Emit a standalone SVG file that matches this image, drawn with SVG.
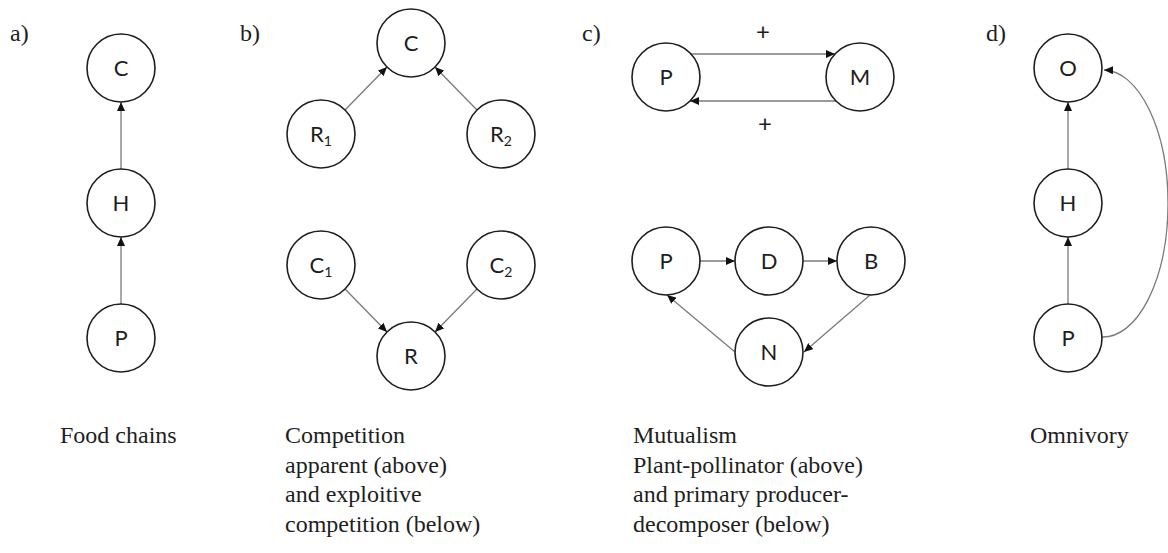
<svg xmlns="http://www.w3.org/2000/svg" width="1168" height="553" viewBox="0 0 1168 553">
<style>
.n{fill:#fff;stroke:#1e1e1e;stroke-width:1.6}
.t{font-family:Lato,"Open Sans","Liberation Sans",sans-serif;font-size:22px;fill:#1e1e1e;text-anchor:middle}
.s{font-size:14px}
.e{fill:none;stroke:#7a7a7a;stroke-width:1.3;marker-end:url(#ah)}
.cap{font-family:"Liberation Serif","Times New Roman",serif;font-size:24px;fill:#1e1e1e}
.pl{font-family:Lato,"Open Sans","Liberation Sans",sans-serif;font-size:24px;fill:#1e1e1e;text-anchor:middle}
</style>
<defs>
<marker id="ah" markerUnits="userSpaceOnUse" markerWidth="9" markerHeight="8" refX="9" refY="4" orient="auto">
<path d="M0,0 L9,4 L0,8 z" fill="#111"/>
</marker>
</defs>
<rect width="1168" height="553" fill="#fff"/>

<g id="panel-labels" class="cap">
<text x="10" y="41">a)</text>
<text x="240" y="41">b)</text>
<text x="582" y="41">c)</text>
<text x="986" y="41">d)</text>
</g>

<g id="connectors">
<line class="e" x1="121" y1="169" x2="121" y2="102"/>
<line class="e" x1="121" y1="304" x2="121" y2="237"/>
<line class="e" x1="345" y1="110" x2="387" y2="67"/>
<line class="e" x1="477" y1="110" x2="435" y2="67"/>
<line class="e" x1="345" y1="289" x2="387" y2="332"/>
<line class="e" x1="477" y1="289" x2="435" y2="332"/>
<line class="e" x1="691" y1="54" x2="835" y2="54"/>
<line class="e" x1="836" y1="101" x2="690" y2="101"/>
<line class="e" x1="700" y1="261" x2="735" y2="261"/>
<line class="e" x1="803" y1="261" x2="837" y2="261"/>
<line class="e" x1="870" y1="295" x2="804" y2="352"/>
<line class="e" x1="735" y1="352" x2="667" y2="295"/>
<line class="e" x1="1068" y1="169" x2="1068" y2="102"/>
<line class="e" x1="1068" y1="304" x2="1068" y2="237"/>
<path class="e" d="M1102,337 A65,133.5 0 0 0 1104,70"/>
</g>

<g id="a-C"><circle class="n" cx="121" cy="68" r="34"/><text class="t" x="121" y="76">C</text></g>
<g id="a-H"><circle class="n" cx="121" cy="203" r="34"/><text class="t" x="121" y="211">H</text></g>
<g id="a-P"><circle class="n" cx="121" cy="338" r="34"/><text class="t" x="121" y="346">P</text></g>

<g id="b-C"><circle class="n" cx="411" cy="43" r="34"/><text class="t" x="411" y="51">C</text></g>
<g id="b-R1"><circle class="n" cx="321" cy="134" r="34"/><text class="t" x="321" y="142">R<tspan class="s" dy="4">1</tspan></text></g>
<g id="b-R2"><circle class="n" cx="501" cy="134" r="34"/><text class="t" x="501" y="142">R<tspan class="s" dy="4">2</tspan></text></g>
<g id="b-C1"><circle class="n" cx="321" cy="265" r="34"/><text class="t" x="321" y="273">C<tspan class="s" dy="4">1</tspan></text></g>
<g id="b-C2"><circle class="n" cx="501" cy="265" r="34"/><text class="t" x="501" y="273">C<tspan class="s" dy="4">2</tspan></text></g>
<g id="b-R"><circle class="n" cx="411" cy="356" r="34"/><text class="t" x="411" y="364">R</text></g>

<g id="c-P1"><circle class="n" cx="666" cy="77" r="34"/><text class="t" x="666" y="85">P</text></g>
<g id="c-M"><circle class="n" cx="860" cy="77" r="34"/><text class="t" x="860" y="85">M</text></g>
<g id="c-plus"><text class="pl" x="763" y="40">+</text><text class="pl" x="765" y="132">+</text></g>
<g id="c-P2"><circle class="n" cx="666" cy="261" r="34"/><text class="t" x="666" y="269">P</text></g>
<g id="c-D"><circle class="n" cx="769" cy="261" r="34"/><text class="t" x="769" y="269">D</text></g>
<g id="c-B"><circle class="n" cx="871" cy="261" r="34"/><text class="t" x="871" y="269">B</text></g>
<g id="c-N"><circle class="n" cx="769" cy="352" r="34"/><text class="t" x="769" y="360">N</text></g>

<g id="d-O"><circle class="n" cx="1068" cy="68" r="34"/><text class="t" x="1068" y="76">O</text></g>
<g id="d-H"><circle class="n" cx="1068" cy="203" r="34"/><text class="t" x="1068" y="211">H</text></g>
<g id="d-P"><circle class="n" cx="1068" cy="338" r="34"/><text class="t" x="1068" y="346">P</text></g>

<g id="captions" class="cap">
<text x="60" y="443">Food chains</text>
<text x="285" y="443">Competition</text>
<text x="285" y="473">apparent (above)</text>
<text x="285" y="502">and exploitive</text>
<text x="285" y="532">competition (below)</text>
<text x="633" y="443">Mutualism</text>
<text x="633" y="473">Plant-pollinator (above)</text>
<text x="633" y="502">and primary producer-</text>
<text x="633" y="532">decomposer (below)</text>
<text x="1030" y="443">Omnivory</text>
</g>
</svg>
